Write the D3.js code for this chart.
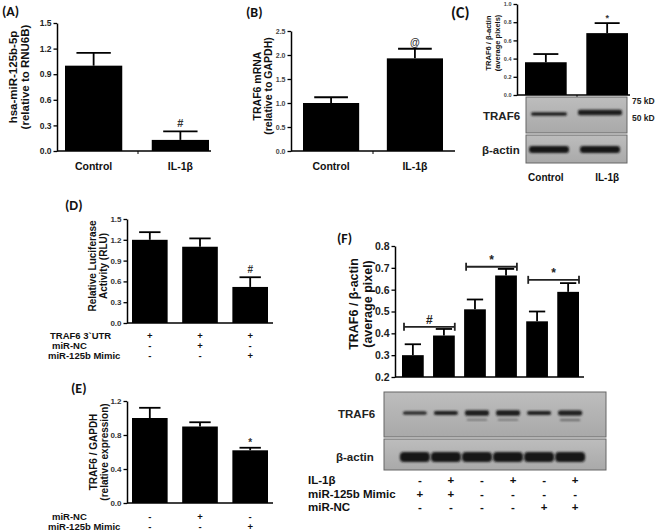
<!DOCTYPE html>
<html><head><meta charset="utf-8">
<script src="https://cdn.jsdelivr.net/npm/d3@7"></script>
<style>body{margin:0;background:#fff}svg{display:block}text{font-family:"Liberation Sans",Arial,sans-serif;font-weight:bold}</style>
</head><body>
<script>
// ---------- data ----------
const aCats = ["Control", "IL-1β"];
const aVals = [1.0, 0.13];
const aErrs = [0.15, 0.10];
const aTicks = [0, 0.3, 0.6, 0.9, 1.2, 1.5];

const bCats = ["Control", "IL-1β"];
const bVals = [1.0, 1.93];
const bErrs = [0.12, 0.20];
const bTicks = [0, 0.5, 1.0, 1.5, 2.0, 2.5];

const cCats = ["Control", "IL-1β"];
const cVals = [0.36, 0.68];
const cErrs = [0.09, 0.11];
const cTicks = [0, 0.2, 0.4, 0.6, 0.8, 1.0];

const dCats = ["d1", "d2", "d3"];
const dVals = [1.2, 1.1, 0.52];
const dErrs = [0.11, 0.12, 0.14];
const dTicks = [0, 0.3, 0.6, 0.9, 1.2, 1.5];
const dRows = ["TRAF6 3`UTR", "miR-NC", "miR-125b Mimic"];
const dSigns = [["+", "+", "+"], ["-", "+", "-"], ["-", "-", "+"]];

const eCats = ["e1", "e2", "e3"];
const eVals = [1.0, 0.9, 0.62];
const eErrs = [0.12, 0.05, 0.03];
const eTicks = [0, 0.4, 0.8, 1.2];
const eRows = ["miR-NC", "miR-125b Mimic"];
const eSigns = [["-", "+", "-"], ["-", "-", "+"]];

const fCats = ["f1", "f2", "f3", "f4", "f5", "f6"];
const fVals = [0.30, 0.39, 0.51, 0.665, 0.455, 0.59];
const fErrs = [0.05, 0.03, 0.045, 0.03, 0.045, 0.04];
const fTicks = [0.2, 0.3, 0.4, 0.5, 0.6, 0.7, 0.8];
const fRows = ["IL-1β", "miR-125b Mimic", "miR-NC"];
const fSigns = [["-", "+", "-", "+", "-", "+"], ["+", "+", "-", "-", "-", "-"], ["-", "-", "-", "-", "+", "+"]];
const fBrackets = [{from: 0, to: 1, level: 0.43, mark: "#"}, {from: 2, to: 3, level: 0.705, mark: "*"}, {from: 4, to: 5, level: 0.645, mark: "*"}];

const cBandsTRAF6 = [3.5, 5.5];
const fBandsTRAF6 = [3, 4, 5.5, 5.5, 4, 5];
const fFaint = [0, 0, 1.5, 1.5, 0, 2];

// ---------- drawing ----------
const svg = d3.select("body").append("svg").attr("width", 656).attr("height", 531);
const defs = svg.append("defs");
defs.append("filter").attr("id", "blur").attr("x", "-20%").attr("y", "-100%").attr("width", "140%").attr("height", "300%")
  .append("feGaussianBlur").attr("stdDeviation", "1.2 1");
const grad = defs.append("linearGradient").attr("id", "blotbg").attr("x1", 0).attr("x2", 0).attr("y1", 0).attr("y2", 1);
grad.append("stop").attr("offset", "0%").attr("stop-color", "#bdbdbd");
grad.append("stop").attr("offset", "100%").attr("stop-color", "#a9a9a9");

function barPanel(c) {
  const g = svg.append("g");
  const y = d3.scaleLinear().domain([c.ticks[0], c.ticks[c.ticks.length - 1]]).range(c.yRange);
  const x = d3.scaleBand().domain(c.cats).range(c.xRange).paddingInner(c.pad).paddingOuter(0);
  const ax = g.append("g").attr("transform", `translate(${c.axisX[0]},0)`)
    .call(d3.axisLeft(y).tickValues(c.ticks).tickSize(3.5).tickSizeOuter(0).tickPadding(2).tickFormat(d3.format(".1f")));
  ax.select(".domain").attr("stroke-width", 1.5);
  ax.selectAll(".tick line").attr("stroke-width", 1.3);
  ax.selectAll(".tick text").style("font-size", c.tickFont + "px").attr("fill", c.tickColor || "#222")
    .style("font-family", "'Liberation Sans',Arial,sans-serif").style("font-weight", "bold");
  g.selectAll("rect.bar").data(c.vals).join("rect").attr("class", "bar")
    .attr("x", (d, i) => x(c.cats[i])).attr("width", x.bandwidth())
    .attr("y", d => y(d)).attr("height", d => y(c.ticks[0]) - y(d)).attr("fill", "#000");
  const capW = x.bandwidth() * (c.cap || 0.6);
  c.vals.forEach((v, i) => {
    const cx = x(c.cats[i]) + x.bandwidth() / 2;
    const top = y(v + c.errs[i]);
    g.append("line").attr("x1", cx).attr("x2", cx).attr("y1", y(v)).attr("y2", top).attr("stroke", "#000").attr("stroke-width", 1.8);
    g.append("line").attr("x1", cx - capW / 2).attr("x2", cx + capW / 2).attr("y1", top).attr("y2", top).attr("stroke", "#000").attr("stroke-width", 1.8);
  });
  const y0 = y(c.ticks[0]);
  g.append("line").attr("x1", c.axisX[0]).attr("x2", c.axisX[1]).attr("y1", y0).attr("y2", y0).attr("stroke", "#000").attr("stroke-width", 1.5);
  if (c.midTick) g.append("line").attr("x1", c.midTick).attr("x2", c.midTick).attr("y1", y0).attr("y2", y0 + 3).attr("stroke", "#000").attr("stroke-width", 1);
  const lab = g.append("text").attr("transform", `translate(${c.yLab.x},${c.yLab.y}) rotate(-90)`)
    .attr("text-anchor", "middle").style("font-size", c.yLab.size + "px").attr("fill", "#111");
  c.yLab.lines.forEach((t, k) => lab.append("tspan").attr("x", 0).attr("dy", k === 0 ? 0 : c.yLab.lh).text(t));
  if (c.catLabels) c.cats.forEach((t, i) => {
    g.append("text").attr("x", x(t) + x.bandwidth() / 2 + (c.catDx || 0)).attr("y", c.catY).attr("text-anchor", "middle")
      .style("font-size", c.catSize + "px").attr("fill", "#111").text(t);
  });
  (c.marks || []).forEach(m => {
    const cx = x(c.cats[m.i]) + x.bandwidth() / 2;
    g.append("text").attr("x", cx).attr("y", y(c.vals[m.i] + c.errs[m.i]) - m.dy).attr("text-anchor", "middle")
      .style("font-size", m.size + "px").attr("fill", "#333").text(m.text);
  });
  return {x, y, g};
}

function panelLabel(t, x, y, size) {
  svg.append("text").attr("x", x).attr("y", y).style("font-size", size + "px")
    .style("font-family", "Calibri,'Open Sans',sans-serif").style("font-weight", "bold").attr("fill", "#111").text(t);
}

function signRows(g, rows, signs, xs, labelX, ys, size) {
  rows.forEach((r, k) => {
    g.append("text").attr("x", labelX[k]).attr("y", ys[k]).style("font-size", size + "px").attr("fill", "#111").text(r);
    signs[k].forEach((s, i) => g.append("text").attr("x", xs[i]).attr("y", ys[k]).attr("text-anchor", "middle")
      .style("font-size", size + "px").attr("fill", "#111").text(s));
  });
}

// Panel A
panelLabel("(A)", 2, 16, 14);
barPanel({cats: aCats, vals: aVals, errs: aErrs, ticks: aTicks, yRange: [151, 23], xRange: [65, 209], pad: 0.34,
  axisX: [57, 211], tickFont: 8.5, midTick: 138,
  yLab: {x: 17, y: 77, size: 11.5, lh: 12, lines: ["hsa-miR-125b-5p", "(relative to RNU6B)"]},
  catLabels: true, catY: 170, catSize: 10.5, marks: [{i: 1, text: "#", dy: 4, size: 11}]});

// Panel B
panelLabel("(B)", 246, 17, 14);
barPanel({cats: bCats, vals: bVals, errs: bErrs, ticks: bTicks, yRange: [151, 31], xRange: [303, 443], pad: 0.33,
  axisX: [291, 455], tickFont: 7, tickColor: "#444", midTick: 373,
  yLab: {x: 261, y: 86, size: 10.5, lh: 11, lines: ["TRAF6 mRNA", "(relative to GAPDH)"]},
  catLabels: true, catY: 170, catSize: 10.5, marks: [{i: 1, text: "@", dy: 3, size: 10}]});

// Panel C
panelLabel("(C)", 451, 18, 16);
const pc = barPanel({cats: cCats, vals: cVals, errs: cErrs, ticks: cTicks, yRange: [95, 4], xRange: [525, 628], pad: 0.32,
  axisX: [517, 630], tickFont: 5.5, tickColor: "#444", midTick: 577,
  yLab: {x: 491, y: 43, size: 7.5, lh: 8.5, lines: ["TRAF6 / β-actin", "(average pixels)"]},
  catLabels: true, catY: 181, catSize: 10, catDx: 0, marks: [{i: 1, text: "*", dy: 2, size: 9}]});
{
  const g = pc.g;
  g.append("rect").attr("x", 526).attr("y", 97).attr("width", 101).attr("height", 36).attr("fill", "url(#blotbg)").attr("stroke", "#666");
  g.append("rect").attr("x", 526).attr("y", 135).attr("width", 101).attr("height", 28).attr("fill", "url(#blotbg)").attr("stroke", "#666");
  const lanes = [549, 600], widths = [36, 44];
  cBandsTRAF6.forEach((h, i) => g.append("rect").attr("x", lanes[i] - widths[i] / 2).attr("y", 114 - h / 2 - (i ? 1.5 : 0)).attr("width", widths[i]).attr("height", h)
    .attr("rx", 2).attr("fill", "#1a1a1a").attr("filter", "url(#blur)"));
  lanes.forEach((cx, i) => g.append("rect").attr("x", cx - 20).attr("y", 146).attr("width", 40).attr("height", 7).attr("rx", 3)
    .attr("fill", "#151515").attr("filter", "url(#blur)"));
  g.append("text").attr("x", 483).attr("y", 120).style("font-size", 11.5).attr("fill", "#222").text("TRAF6");
  g.append("text").attr("x", 482).attr("y", 154).style("font-size", 11.5).attr("fill", "#222").text("β-actin");
  g.append("text").attr("x", 632).attr("y", 104).style("font-size", 8.5).attr("fill", "#222").text("75 kD");
  g.append("text").attr("x", 632).attr("y", 121).style("font-size", 8.5).attr("fill", "#222").text("50 kD");
}

// Panel D
panelLabel("(D)", 65, 210, 14);
const pd = barPanel({cats: dCats, vals: dVals, errs: dErrs, ticks: dTicks, yRange: [323, 219], xRange: [132, 268], pad: 0.29,
  axisX: [127, 273], tickFont: 8, tickColor: "#333",
  yLab: {x: 96, y: 266, size: 10, lh: 11, lines: ["Relative Luciferase", "Activity (RLU)"]},
  catLabels: false, marks: [{i: 2, text: "#", dy: 4, size: 10}]});
signRows(pd.g, dRows, dSigns, dCats.map(c => pd.x(c) + pd.x.bandwidth() / 2), [50, 52, 48], [339, 349, 359], 9.5);

// Panel E
panelLabel("(E)", 71, 393, 14);
const pe = barPanel({cats: eCats, vals: eVals, errs: eErrs, ticks: eTicks, yRange: [503, 401], xRange: [132, 268], pad: 0.29,
  axisX: [127, 273], tickFont: 8, tickColor: "#333",
  yLab: {x: 97, y: 452, size: 10, lh: 10.5, lines: ["TRAF6 / GAPDH", "(relative expression)"]},
  catLabels: false, marks: [{i: 2, text: "*", dy: 2, size: 10}]});
signRows(pe.g, eRows, eSigns, eCats.map(c => pe.x(c) + pe.x.bandwidth() / 2), [52, 48], [520, 530], 9.5);

// Panel F
panelLabel("(F)", 337, 243, 14);
const pf = barPanel({cats: fCats, vals: fVals, errs: fErrs, ticks: fTicks, yRange: [377, 246], xRange: [402, 579], pad: 0.3,
  axisX: [395, 584], tickFont: 10.5, tickColor: "#222", cap: 0.75,
  yLab: {x: 358, y: 304, size: 12.5, lh: 14, lines: ["TRAF6 / β-actin", "(average pixel)"]},
  catLabels: false});
{
  const g = pf.g, x = pf.x, y = pf.y, bw = x.bandwidth();
  fBrackets.forEach(b => {
    const x1 = x(fCats[b.from]) + 2, x2 = x(fCats[b.to]) + bw, yy = y(b.level);
    g.append("line").attr("x1", x1).attr("x2", x2).attr("y1", yy).attr("y2", yy).attr("stroke", "#222").attr("stroke-width", 1.8);
    [x1, x2].forEach(xx => g.append("line").attr("x1", xx).attr("x2", xx).attr("y1", yy - 4).attr("y2", yy + 4).attr("stroke", "#222").attr("stroke-width", 1.8));
    g.append("text").attr("x", (x1 + x2) / 2).attr("y", yy - 3).attr("text-anchor", "middle").style("font-size", "12px").attr("fill", "#222").text(b.mark);
  });
  g.append("rect").attr("x", 384).attr("y", 392).attr("width", 222).attr("height", 45).attr("fill", "url(#blotbg)").attr("stroke", "#666");
  g.append("rect").attr("x", 384).attr("y", 439).attr("width", 222).attr("height", 31).attr("fill", "url(#blotbg)").attr("stroke", "#666");
  const lanes = fCats.map(c => x(c) + bw / 2 + 2);
  fBandsTRAF6.forEach((h, i) => {
    g.append("rect").attr("x", lanes[i] - 12).attr("y", 413 - h / 2).attr("width", 24).attr("height", h).attr("rx", 2)
      .attr("fill", "#1a1a1a").attr("filter", "url(#blur)");
    if (fFaint[i] > 0) g.append("rect").attr("x", lanes[i] - 10).attr("y", 419).attr("width", 20).attr("height", fFaint[i]).attr("fill", "#666").attr("filter", "url(#blur)");
  });
  lanes.forEach(cx => g.append("rect").attr("x", cx - 15).attr("y", 452).attr("width", 30).attr("height", 10).attr("rx", 4)
    .attr("fill", "#141414").attr("filter", "url(#blur)"));
  g.append("text").attr("x", 338).attr("y", 418).style("font-size", 11.5).attr("fill", "#222").text("TRAF6");
  g.append("text").attr("x", 336).attr("y", 461).style("font-size", 11.5).attr("fill", "#222").text("β-actin");
  signRows(g, fRows, fSigns, fCats.map(c => x(c) + bw / 2 + 7), [308, 308, 308], [484, 498, 511], 11.5);
}
</script>
</body></html>
